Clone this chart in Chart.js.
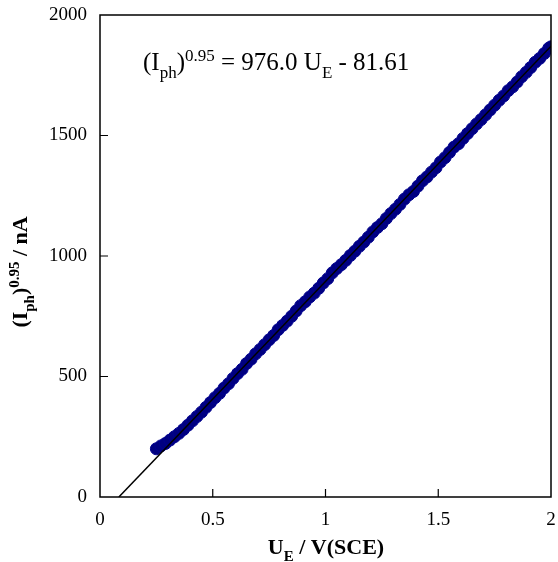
<!DOCTYPE html>
<html>
<head>
<meta charset="utf-8">
<script src="https://cdn.jsdelivr.net/npm/chart.js@4.4.1/dist/chart.umd.min.js"></script>
<style>
  body { margin: 0; background: #fff; }
  canvas { display: block; }
</style>
</head>
<body>
<canvas id="chart" width="558" height="562"></canvas>
<script>
// measured points, U_E (V vs SCE) and (I_ph)^0.95 (nA)
const potential = [
  0.25, 0.27, 0.29, 0.31, 0.33, 0.35, 0.37, 0.39, 0.41, 0.43,
  0.45, 0.47, 0.49, 0.51, 0.53, 0.55, 0.57, 0.59, 0.61, 0.63,
  0.65, 0.67, 0.69, 0.71, 0.73, 0.75, 0.77, 0.79, 0.81, 0.83,
  0.85, 0.87, 0.89, 0.91, 0.93, 0.95, 0.97, 0.99, 1.01, 1.03,
  1.05, 1.07, 1.09, 1.11, 1.13, 1.15, 1.17, 1.19, 1.21, 1.23,
  1.25, 1.27, 1.29, 1.31, 1.33, 1.35, 1.37, 1.39, 1.41, 1.43,
  1.45, 1.47, 1.49, 1.51, 1.53, 1.55, 1.57, 1.59, 1.61, 1.63,
  1.65, 1.67, 1.69, 1.71, 1.73, 1.75, 1.77, 1.79, 1.81, 1.83,
  1.85, 1.87, 1.89, 1.91, 1.93, 1.95, 1.97, 1.99, 2.00
];
const photocurrent = [
  200, 212, 222, 236, 250, 264, 280, 298, 316, 334,
  352, 372, 392, 412, 430, 452, 470, 492, 512, 530,
  554, 572, 594, 612, 632, 652, 670, 694, 712, 730,
  750, 772, 794, 810, 830, 846, 866, 888, 906, 930,
  948, 964, 982, 1002, 1020, 1040, 1058, 1078, 1100, 1118,
  1134, 1156, 1176, 1194, 1214, 1236, 1254, 1268, 1290, 1312,
  1328, 1348, 1366, 1390, 1408, 1430, 1452, 1466, 1488, 1508,
  1528, 1548, 1566, 1586, 1606, 1626, 1646, 1664, 1686, 1702,
  1722, 1744, 1762, 1782, 1804, 1820, 1840, 1862, 1868
];

// linear fit shown on the plot
const fitSlope = 976.0;
const fitIntercept = -81.61;
const fitRange = [-fitIntercept / fitSlope, 2.0];

const xTicks = [0, 0.5, 1, 1.5, 2];
const yTicks = [0, 500, 1000, 1500, 2000];

const serif = "'Liberation Serif', 'Times New Roman', serif";

// text runs with sub/superscripts
function richWidth(ctx, parts, size, weight) {
  let w = 0;
  parts.forEach(([txt, kind]) => {
    const s = kind === 'n' ? size : size * 0.68;
    ctx.font = `${weight} ${s}px ${serif}`;
    w += ctx.measureText(txt).width;
  });
  return w;
}

function drawRich(ctx, parts, x, y, size, weight) {
  let cx = x;
  parts.forEach(([txt, kind]) => {
    const s = kind === 'n' ? size : size * 0.68;
    let dy = 0;
    if (kind === 'sub') dy = size * 0.3;
    if (kind === 'sup') dy = -size * 0.38;
    ctx.font = `${weight} ${s}px ${serif}`;
    ctx.fillText(txt, cx, y + dy);
    cx += ctx.measureText(txt).width;
  });
}

const framePlugin = {
  id: 'frame',
  afterDraw(chart) {
    const { ctx, chartArea: a, scales } = chart;
    ctx.save();
    ctx.strokeStyle = '#000';
    ctx.lineWidth = 1.5;
    ctx.strokeRect(a.left, a.top, a.right - a.left, a.bottom - a.top);

    // inside tick marks
    ctx.lineWidth = 1.2;
    ctx.beginPath();
    xTicks.slice(1, -1).forEach(v => {
      const px = scales.x.getPixelForValue(v);
      ctx.moveTo(px, a.bottom);
      ctx.lineTo(px, a.bottom - 8);
    });
    yTicks.slice(1, -1).forEach(v => {
      const py = scales.y.getPixelForValue(v);
      ctx.moveTo(a.left, py);
      ctx.lineTo(a.left + 8, py);
    });
    ctx.stroke();

    ctx.fillStyle = '#000';
    ctx.textBaseline = 'alphabetic';

    // fit equation
    const eq = [['(I', 'n'], ['ph', 'sub'], [')', 'n'], ['0.95', 'sup'],
      [' = 976.0 U', 'n'], ['E', 'sub'], [' - 81.61', 'n']];
    drawRich(ctx, eq, 143, 70, 25, 'normal');

    // x title
    const xt = [['U', 'n'], ['E', 'sub'], [' / V(SCE)', 'n']];
    const xw = richWidth(ctx, xt, 22, 'bold');
    drawRich(ctx, xt, 326 - xw / 2, 554, 22, 'bold');

    // y title
    const yt = [['(I', 'n'], ['ph', 'sub'], [')', 'n'], ['0.95', 'sup'], [' / nA', 'n']];
    const yw = richWidth(ctx, yt, 22, 'bold');
    ctx.translate(27, 272);
    ctx.rotate(-Math.PI / 2);
    drawRich(ctx, yt, -yw / 2, 0, 22, 'bold');
    ctx.restore();
  }
};

new Chart(document.getElementById('chart'), {
  type: 'scatter',
  data: {
    datasets: [
      {
        type: 'line',
        data: fitRange.map(u => ({ x: u, y: fitSlope * u + fitIntercept })),
        borderColor: '#000',
        borderWidth: 1.5,
        pointRadius: 0,
        fill: false,
        order: 0
      },
      {
        data: potential.map((u, i) => ({ x: u, y: photocurrent[i] })),
        backgroundColor: '#000080',
        borderColor: '#000090',
        borderWidth: 1,
        pointRadius: 6,
        pointHoverRadius: 6,
        order: 1
      }
    ]
  },
  options: {
    responsive: false,
    devicePixelRatio: 1,
    animation: false,
    layout: { padding: { top: 15, right: 3, left: 0, bottom: 0 } },
    plugins: { legend: { display: false }, tooltip: { enabled: false } },
    scales: {
      x: {
        type: 'linear',
        min: 0,
        max: 2,
        grid: { display: false },
        border: { display: false },
        afterBuildTicks: s => { s.ticks = xTicks.map(v => ({ value: v })); },
        ticks: {
          padding: 4,
          maxRotation: 0,
          color: '#000',
          font: { family: serif, size: 19 },
          callback: v => String(v)
        },
        afterFit: s => { s.height = 65; s.paddingLeft = 0; s.paddingRight = 0; }
      },
      y: {
        min: 0,
        max: 2000,
        grid: { display: false },
        border: { display: false },
        afterBuildTicks: s => { s.ticks = yTicks.map(v => ({ value: v })); },
        ticks: {
          padding: 5,
          color: '#000',
          font: { family: serif, size: 19 },
          callback: v => String(v)
        },
        afterFit: s => { s.width = 100; s.paddingTop = 0; s.paddingBottom = 0; }
      }
    }
  },
  plugins: [framePlugin]
});
</script>
</body>
</html>
